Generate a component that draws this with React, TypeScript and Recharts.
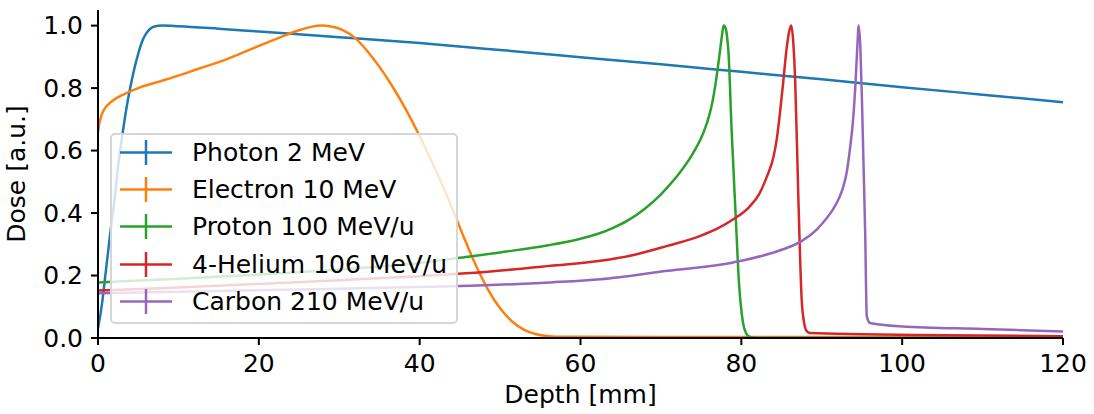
import React from "react";
import { LineChart, Line, XAxis, YAxis, Label } from "recharts";

// ---- data ----
const photonDepth = [0, 0.5, 1, 1.5, 2, 2.5, 3, 3.5, 4, 4.5, 5, 5.5, 6, 6.5, 7, 8, 10, 15, 20, 30, 40, 50, 60, 70, 80, 90, 100, 110, 120];
const photonDose = [0.03, 0.11, 0.22, 0.33, 0.43, 0.55, 0.645, 0.73, 0.8, 0.86, 0.91, 0.95, 0.975, 0.99, 0.997, 1.0, 0.998, 0.99, 0.981, 0.963, 0.944, 0.922, 0.899, 0.876, 0.852, 0.828, 0.803, 0.779, 0.755];

const electronDepth = [0, 0.2, 0.4, 0.8, 1.6, 3.2, 5, 7.5, 10, 12.5, 15, 17.5, 20, 22.5, 25, 26.5, 27.7, 29, 30.5, 32, 33.5, 35, 36.5, 38, 39.5, 41, 42.5, 44, 45.5, 47, 48.5, 50, 51.5, 53, 54.5, 56, 58, 60, 80, 100, 120];
const electronDose = [0.66, 0.69, 0.71, 0.733, 0.755, 0.78, 0.8, 0.82, 0.84, 0.862, 0.883, 0.908, 0.935, 0.961, 0.985, 0.996, 1.0, 0.997, 0.985, 0.96, 0.918, 0.868, 0.81, 0.745, 0.672, 0.593, 0.508, 0.418, 0.322, 0.232, 0.155, 0.095, 0.053, 0.026, 0.012, 0.006, 0.004, 0.004, 0.003, 0.003, 0.003];

const protonDepth = [0, 10, 20, 30, 40, 46, 50, 56, 60, 62, 64, 66, 68, 70, 71, 72, 73, 74, 75, 75.5, 76, 76.4, 76.8, 77.1, 77.4, 77.6, 77.8, 78.0, 78.2, 78.4, 78.8, 79.3, 79.7, 80.2, 80.6, 81.1, 82, 120];
const protonDose = [0.178, 0.19, 0.203, 0.219, 0.24, 0.26, 0.274, 0.297, 0.318, 0.332, 0.352, 0.378, 0.414, 0.46, 0.488, 0.518, 0.552, 0.592, 0.64, 0.672, 0.712, 0.755, 0.815, 0.87, 0.93, 0.97, 1.0, 0.995, 0.97, 0.915, 0.66, 0.39, 0.18, 0.05, 0.015, 0.003, 0.0, 0.0];

const heliumDepth = [0, 10, 20, 30, 40, 46.3, 56.3, 62.5, 67, 70.8, 74.9, 77, 79, 81, 82.2, 83.2, 84, 84.4, 84.8, 85.2, 85.6, 85.9, 86.2, 86.45, 86.7, 87.1, 87.5, 87.8, 88.1, 88.5, 95, 105, 120];
const heliumDose = [0.152, 0.162, 0.173, 0.185, 0.198, 0.208, 0.231, 0.247, 0.268, 0.295, 0.327, 0.35, 0.38, 0.42, 0.46, 0.518, 0.58, 0.636, 0.72, 0.817, 0.92, 0.975, 1.0, 0.95, 0.82, 0.44, 0.125, 0.05, 0.023, 0.016, 0.012, 0.009, 0.006];

const carbonDepth = [0, 10, 20, 30, 40, 46.3, 56.3, 62.5, 70.8, 79, 85.2, 87.5, 89.4, 90.5, 91.4, 92.1, 92.7, 93.1, 93.5, 93.9, 94.2, 94.4, 94.6, 94.8, 95, 95.2, 95.4, 95.6, 96, 100, 110, 120];
const carbonDose = [0.143, 0.148, 0.153, 0.158, 0.163, 0.167, 0.178, 0.188, 0.215, 0.242, 0.284, 0.31, 0.348, 0.38, 0.412, 0.445, 0.486, 0.53, 0.604, 0.7, 0.817, 0.92, 1.0, 0.93, 0.76, 0.55, 0.338, 0.07, 0.048, 0.037, 0.029, 0.021];

const seriesNames = ["Photon 2 MeV", "Electron 10 MeV", "Proton 100 MeV/u", "4-Helium 106 MeV/u", "Carbon 210 MeV/u"];
const seriesColors = ["#1f77b4", "#ff7f0e", "#2ca02c", "#d62728", "#9467bd"];

const xTicks = [0, 20, 40, 60, 80, 100, 120];
const yTicks = [0, 0.2, 0.4, 0.6, 0.8, 1.0];

const zip = (xs: number[], ys: number[]) => xs.map((x, i) => ({ x, y: ys[i] }));

const seriesData = [
  zip(photonDepth, photonDose),
  zip(electronDepth, electronDose),
  zip(protonDepth, protonDose),
  zip(heliumDepth, heliumDose),
  zip(carbonDepth, carbonDose),
];

const FONT = "'DejaVu Sans', sans-serif";
const tickStyle = { fontSize: 25, fill: "#000", fontFamily: FONT };

function LegendBox() {
  return (
    <div
      style={{
        position: "absolute",
        left: 110,
        top: 133,
        width: 344,
        height: 187,
        background: "rgba(255,255,255,0.8)",
        border: "2px solid #d6d6d6",
        borderRadius: 5,
        fontFamily: FONT,
        fontSize: 25,
        color: "#000",
      }}
    >
      {seriesNames.map((name, i) => (
        <div
          key={name}
          style={{ position: "absolute", left: 0, top: -1.35 + i * 37.35, height: 37.35, width: "100%", lineHeight: "37.35px", whiteSpace: "nowrap" }}
        >
          <svg width={64} height={37} style={{ position: "absolute", left: 0, top: 0 }}>
            <line x1={8} x2={60} y1={18.5} y2={18.5} stroke={seriesColors[i]} strokeWidth={2.5} />
            <line x1={34} x2={34} y1={6} y2={31} stroke={seriesColors[i]} strokeWidth={2.5} />
          </svg>
          <span style={{ position: "absolute", left: 80, top: 0 }}>{name}</span>
        </div>
      ))}
    </div>
  );
}

export default function App() {
  return (
    <div style={{ position: "absolute", left: 0, top: 0, width: 1094, height: 414, background: "#fff" }}>
      <LineChart width={1094} height={414} margin={{ top: 10, right: 31, bottom: 0, left: 0 }}>
        <XAxis
          dataKey="x"
          type="number"
          domain={[0, 120]}
          ticks={xTicks}
          allowDataOverflow
          height={76}
          tick={tickStyle}
          tickSize={7}
          tickMargin={9}
          axisLine={{ stroke: "#000", strokeWidth: 2 }}
          tickLine={{ stroke: "#000", strokeWidth: 2 }}
        >
          <Label
            content={({ viewBox }: any) => (
              <text x={viewBox.x + viewBox.width / 2} y={403} textAnchor="middle" fontSize={25} fontFamily={FONT} fill="#000">
                Depth [mm]
              </text>
            )}
          />
        </XAxis>
        <YAxis
          type="number"
          domain={[0, 1.05]}
          ticks={yTicks}
          allowDataOverflow
          width={98}
          tick={tickStyle}
          tickSize={7}
          tickMargin={8}
          tickFormatter={(v: number) => v.toFixed(1)}
          axisLine={{ stroke: "#000", strokeWidth: 2 }}
          tickLine={{ stroke: "#000", strokeWidth: 2 }}
        >
          <Label
            content={({ viewBox }: any) => {
              const cy = viewBox.y + viewBox.height / 2;
              return (
                <text x={25} y={cy} transform={`rotate(-90, 25, ${cy})`} textAnchor="middle" fontSize={25} fontFamily={FONT} fill="#000">
                  Dose [a.u.]
                </text>
              );
            }}
          />
        </YAxis>
        {seriesData.map((d, i) => (
          <Line
            key={seriesNames[i]}
            data={d}
            dataKey="y"
            name={seriesNames[i]}
            type="monotone"
            stroke={seriesColors[i]}
            strokeWidth={2.5}
            dot={false}
            activeDot={false}
            isAnimationActive={false}
          />
        ))}
      </LineChart>
      <LegendBox />
    </div>
  );
}
